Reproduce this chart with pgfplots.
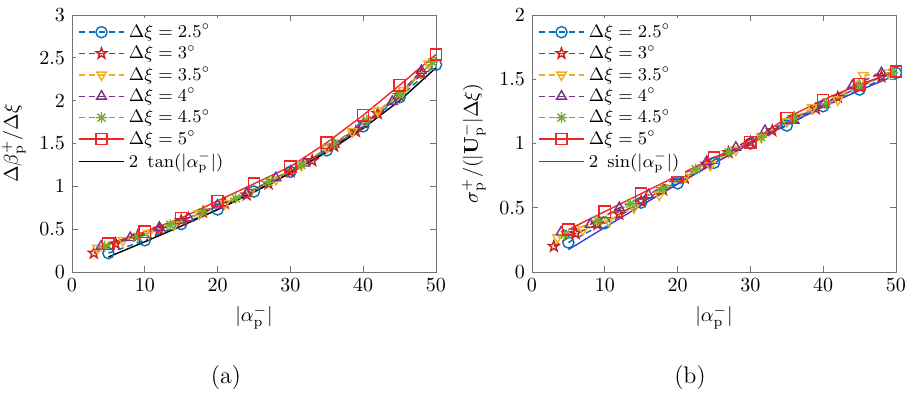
\documentclass[border=0pt]{standalone}
\usepackage{pgfplots}
\pgfplotsset{compat=1.18}
\definecolor{c1}{rgb}{0.0,0.447,0.741}
\definecolor{c2}{rgb}{0.80,0.12,0.12}
\definecolor{c3}{rgb}{0.929,0.694,0.125}
\definecolor{c4}{rgb}{0.494,0.184,0.556}
\definecolor{c5}{rgb}{0.466,0.674,0.188}
\definecolor{c6}{rgb}{0.95,0.15,0.15}
\definecolor{sinblue}{rgb}{0.2,0.25,0.95}
\definecolor{axgray}{rgb}{0.45,0.45,0.45}
\pgfdeclareplotmark{pentagram}{%
  \pgfpathmoveto{\pgfqpointpolar{90}{\pgfplotmarksize}}%
  \pgfpathlineto{\pgfqpointpolar{126}{0.4\pgfplotmarksize}}%
  \pgfpathlineto{\pgfqpointpolar{162}{\pgfplotmarksize}}%
  \pgfpathlineto{\pgfqpointpolar{198}{0.4\pgfplotmarksize}}%
  \pgfpathlineto{\pgfqpointpolar{234}{\pgfplotmarksize}}%
  \pgfpathlineto{\pgfqpointpolar{270}{0.4\pgfplotmarksize}}%
  \pgfpathlineto{\pgfqpointpolar{306}{\pgfplotmarksize}}%
  \pgfpathlineto{\pgfqpointpolar{342}{0.4\pgfplotmarksize}}%
  \pgfpathlineto{\pgfqpointpolar{18}{\pgfplotmarksize}}%
  \pgfpathlineto{\pgfqpointpolar{54}{0.4\pgfplotmarksize}}%
  \pgfpathclose\pgfusepathqstroke}
\pgfdeclareplotmark{matast}{%
  \pgfpathmoveto{\pgfqpoint{-\pgfplotmarksize}{0pt}}\pgfpathlineto{\pgfqpoint{\pgfplotmarksize}{0pt}}%
  \pgfpathmoveto{\pgfqpoint{0pt}{-\pgfplotmarksize}}\pgfpathlineto{\pgfqpoint{0pt}{\pgfplotmarksize}}%
  \pgfpathmoveto{\pgfqpoint{-0.707\pgfplotmarksize}{-0.707\pgfplotmarksize}}\pgfpathlineto{\pgfqpoint{0.707\pgfplotmarksize}{0.707\pgfplotmarksize}}%
  \pgfpathmoveto{\pgfqpoint{-0.707\pgfplotmarksize}{0.707\pgfplotmarksize}}\pgfpathlineto{\pgfqpoint{0.707\pgfplotmarksize}{-0.707\pgfplotmarksize}}%
  \pgfusepathqstroke}
\pgfplotsset{
  common/.style={
    scale only axis, width=182pt, height=128.5pt,
    xmin=0, xmax=50, xtick={0,10,...,50},
    tick align=inside, axis line style={axgray}, tick style={axgray, thin},
    major tick length=3pt,
    xlabel={$|\alpha_{\mathrm{p}}^-|$},
    legend cell align=left,
    legend style={at={(0.01,0.99)}, anchor=north west, draw=none, fill=white,
      font=\small, row sep=-1.5pt, inner sep=1pt},
    legend image code/.code={\draw[mark repeat=2,mark phase=2] plot coordinates {(0cm,0cm) (0.4cm,0cm) (0.8cm,0cm)};},
    every axis plot/.append style={line width=0.7pt, mark size=2.8pt},
  },
  dsh/.style={dash pattern=on 3pt off 2pt},
}
\begin{document}
\begin{tikzpicture}
\path[use as bounding box] (0,0) rectangle (459pt,198.5pt);
\begin{axis}[common, at={(36pt,62.5pt)}, anchor=south west,
  ymin=0, ymax=3, ytick={0,0.5,...,3},
  ylabel={$\Delta\beta_{\mathrm{p}}^+/\Delta\xi$}]
\addplot[c1, dsh, mark=o, mark options={solid}] coordinates {(5,0.22) (10,0.37) (15,0.56) (20,0.73) (25,0.94) (30,1.17) (35,1.42) (40,1.70) (45,2.04) (50,2.42)};
\addlegendentry{$\Delta\xi = 2.5^\circ$}
\addplot[c2, dsh, mark=pentagram, mark options={solid}] coordinates {(3,0.22) (6,0.33) (9,0.42) (12,0.50) (15,0.60) (18,0.70) (21,0.80) (24,0.90) (27,1.03) (30,1.17) (33,1.30) (36,1.47) (39,1.64) (42,1.85) (45,2.06) (48,2.32)};
\addlegendentry{$\Delta\xi = 3^\circ$}
\addplot[c3, dsh, mark=triangle, mark options={solid, rotate=180}] coordinates {(3.5,0.28) (7,0.37) (10.5,0.45) (14,0.55) (17.5,0.68) (21,0.80) (24.5,0.93) (28,1.08) (31.5,1.25) (35,1.45) (38.5,1.64) (42,1.88) (45.5,2.12) (49,2.43)};
\addlegendentry{$\Delta\xi = 3.5^\circ$}
\addplot[c4, dsh, mark=triangle, mark options={solid}] coordinates {(4,0.30) (8,0.40) (12,0.52) (16,0.63) (20,0.78) (24,0.92) (28,1.10) (32,1.27) (36,1.49) (40,1.72) (44,1.99) (48,2.35)};
\addlegendentry{$\Delta\xi = 4^\circ$}
\addplot[c5, dsh, mark=matast, mark options={solid}] coordinates {(4.5,0.30) (9,0.41) (13.5,0.55) (18,0.70) (22.5,0.86) (27,1.05) (31.5,1.25) (36,1.50) (40.5,1.77) (45,2.07) (49.5,2.45)};
\addlegendentry{$\Delta\xi = 4.5^\circ$}
\addplot[c6, mark=square] coordinates {(5,0.33) (10,0.47) (15,0.63) (20,0.83) (25,1.03) (30,1.23) (35,1.51) (40,1.83) (45,2.18) (50,2.54)};
\addlegendentry{$\Delta\xi = 5^\circ$}
\addplot[black, no marks] coordinates {(5,0.175) (10,0.353) (15,0.536) (20,0.728) (25,0.933) (30,1.155) (35,1.400) (40,1.678) (45,2.000) (50,2.384)};
\addlegendentry{$2\ \tan(|\alpha_{\mathrm{p}}^-|)$}
\end{axis}
\begin{axis}[common, at={(266pt,62.5pt)}, anchor=south west,
  ymin=0, ymax=2, ytick={0,0.5,...,2},
  ylabel={$\sigma_{\mathrm{p}}^+/(|\mathbf{U}_{\mathrm{p}}^-|\Delta\xi)$}]
\addplot[c1, dsh, mark=o, mark options={solid}] coordinates {(5,0.23) (10,0.38) (15,0.54) (20,0.69) (25,0.85) (30,1.00) (35,1.14) (40,1.29) (45,1.42) (50,1.55)};
\addlegendentry{$\Delta\xi = 2.5^\circ$}
\addplot[c2, dsh, mark=pentagram, mark options={solid}] coordinates {(3,0.20) (6,0.30) (9,0.37) (12,0.45) (15,0.55) (18,0.64) (21,0.73) (24,0.84) (27,0.93) (30,1.01) (33,1.10) (36,1.20) (39,1.27) (42,1.36) (45,1.44) (48,1.52)};
\addlegendentry{$\Delta\xi = 3^\circ$}
\addplot[c3, dsh, mark=triangle, mark options={solid, rotate=180}] coordinates {(3.5,0.27) (7,0.33) (10.5,0.40) (14,0.50) (17.5,0.60) (21,0.74) (24.5,0.83) (28,0.95) (31.5,1.05) (35,1.17) (38.5,1.28) (42,1.34) (45.5,1.53) (49,1.55)};
\addlegendentry{$\Delta\xi = 3.5^\circ$}
\addplot[c4, dsh, mark=triangle, mark options={solid}] coordinates {(4,0.31) (8,0.37) (12,0.50) (16,0.60) (20,0.74) (24,0.86) (28,0.97) (32,1.10) (36,1.18) (40,1.30) (44,1.45) (48,1.55)};
\addlegendentry{$\Delta\xi = 4^\circ$}
\addplot[c5, dsh, mark=matast, mark options={solid}] coordinates {(4.5,0.29) (9,0.40) (13.5,0.53) (18,0.65) (22.5,0.80) (27,0.93) (31.5,1.05) (36,1.20) (40.5,1.31) (45,1.45) (49.5,1.55)};
\addlegendentry{$\Delta\xi = 4.5^\circ$}
\addplot[c6, mark=square] coordinates {(5,0.33) (10,0.47) (15,0.61) (20,0.75) (25,0.89) (30,1.01) (35,1.20) (40,1.34) (45,1.46) (50,1.56)};
\addlegendentry{$\Delta\xi = 5^\circ$}
\addplot[sinblue, no marks] coordinates {(5,0.174) (10,0.347) (15,0.518) (20,0.684) (25,0.845) (30,1.000) (35,1.147) (40,1.286) (45,1.414) (50,1.532)};
\addlegendentry{$2\ \sin(|\alpha_{\mathrm{p}}^-|)$}
\end{axis}
\node[font=\large] at (113pt,9.5pt) {(a)};
\node[font=\large] at (345pt,9.5pt) {(b)};
\end{tikzpicture}
\end{document}
